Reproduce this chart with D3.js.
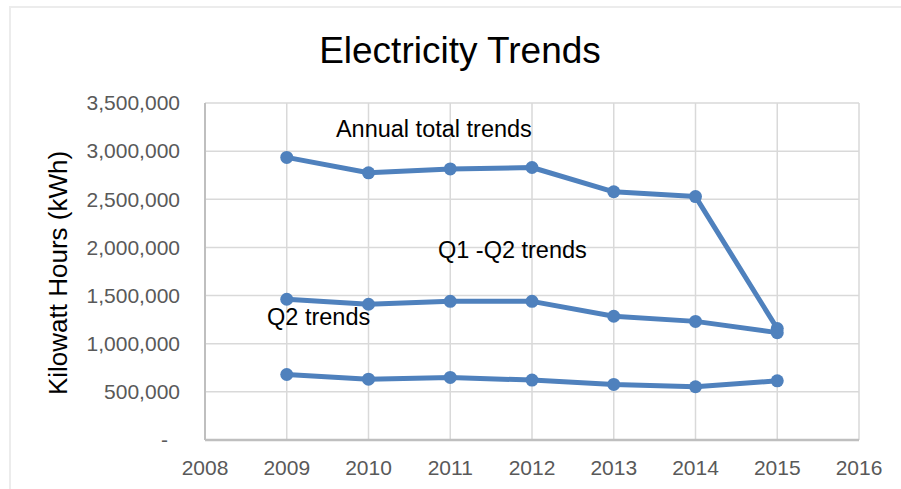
<!DOCTYPE html>
<meta charset="utf-8">
<script src="https://d3js.org/d3.v7.min.js"></script>
<style>
  body { margin: 0; background: #fff; }
  text { font-family: "Liberation Sans", Arial, sans-serif; }
</style>
<body>
<div id="chart"></div>
<script>

    // years on the x axis
    var years = [2009, 2010, 2011, 2012, 2013, 2014, 2015];

    // kWh values
    var annualTotal = [2935000, 2775000, 2815000, 2830000, 2578000, 2528000, 1158000];
    var q1q2 = [1462000, 1410000, 1440000, 1440000, 1285000, 1232000, 1115000];
    var q2 = [680000, 632000, 650000, 622000, 577000, 553000, 615000];

    var xTicks = [2008, 2009, 2010, 2011, 2012, 2013, 2014, 2015, 2016];
    var yTicks = [0, 500000, 1000000, 1500000, 2000000, 2500000, 3000000, 3500000];

    // text labels placed in data units
    var labelText = ["Annual total trends", "Q1 -Q2 trends", "Q2 trends"];
    var labelYear = [2010.8, 2011.76, 2009.39];
    var labelValue = [3147000, 1890000, 1194000];

    var width = 901, height = 489;
    var margin = {top: 103, right: 42, bottom: 49, left: 205};

    var svg = d3.select("#chart")
      .append("svg")
        .attr("width", width)
        .attr("height", height);

    // outer chart frame
    svg.append("rect")
        .attr("x", 10).attr("y", 7)
        .attr("width", width + 20).attr("height", height + 20)
        .attr("fill", "#fff")
        .attr("stroke", "#ececec")
        .attr("stroke-width", 2);

    var x = d3.scaleLinear()
      .domain([2008, 2016])
      .range([margin.left, width - margin.right]);

    var y = d3.scaleLinear()
      .domain([0, 3500000])
      .range([height - margin.bottom, margin.top]);

    // horizontal grid
    svg.append("g")
      .selectAll("line")
      .data(yTicks.slice(1))
      .enter()
      .append("line")
        .attr("x1", x(2008)).attr("x2", x(2016))
        .attr("y1", function(d) { return y(d); })
        .attr("y2", function(d) { return y(d); })
        .attr("stroke", "#d9d9d9")
        .attr("stroke-width", 1.5);

    // vertical grid
    svg.append("g")
      .selectAll("line")
      .data(xTicks.slice(1))
      .enter()
      .append("line")
        .attr("x1", function(d) { return x(d); })
        .attr("x2", function(d) { return x(d); })
        .attr("y1", y(0)).attr("y2", y(3500000))
        .attr("stroke", "#d9d9d9")
        .attr("stroke-width", 1.5);

    // axes lines
    svg.append("line")
        .attr("x1", x(2008)).attr("x2", x(2008))
        .attr("y1", y(0)).attr("y2", y(3500000))
        .attr("stroke", "#bfbfbf").attr("stroke-width", 2);
    svg.append("line")
        .attr("x1", x(2008)).attr("x2", x(2016))
        .attr("y1", y(0)).attr("y2", y(0))
        .attr("stroke", "#bfbfbf").attr("stroke-width", 2.5);

    // y tick labels
    var yFmt = d3.format(",");
    svg.append("g")
      .selectAll("text")
      .data(yTicks)
      .enter()
      .append("text")
        .attr("x", function(d) { return d === 0 ? 168 : 180; })
        .attr("y", function(d) { return y(d); })
        .attr("dy", "0.35em")
        .attr("text-anchor", "end")
        .attr("font-size", "21px")
        .attr("fill", "#595959")
        .text(function(d) { return d === 0 ? "-" : yFmt(d); });

    // x tick labels
    svg.append("g")
      .selectAll("text")
      .data(xTicks)
      .enter()
      .append("text")
        .attr("x", function(d) { return x(d); })
        .attr("y", 475)
        .attr("text-anchor", "middle")
        .attr("font-size", "21px")
        .attr("fill", "#595959")
        .text(function(d) { return d; });

    // title
    svg.append("text")
        .attr("x", 460)
        .attr("y", 63)
        .attr("text-anchor", "middle")
        .attr("font-size", "37px")
        .attr("fill", "#000")
        .text("Electricity Trends");

    // y axis title
    svg.append("text")
        .attr("transform", "translate(67,273) rotate(-90)")
        .attr("text-anchor", "middle")
        .attr("font-size", "26px")
        .attr("fill", "#000")
        .text("Kilowatt Hours (kWh)");

    var line = d3.line()
      .x(function(d, i) { return x(years[i]); })
      .y(function(d) { return y(d); });

    var series = [annualTotal, q1q2, q2];
    var blue = "#4f81bd";

    series.forEach(function(s) {
      svg.append("path")
          .datum(s)
          .attr("d", line)
          .attr("fill", "none")
          .attr("stroke", blue)
          .attr("stroke-width", 5)
          .attr("stroke-linejoin", "round");

      svg.append("g")
        .selectAll("circle")
        .data(s)
        .enter()
        .append("circle")
          .attr("cx", function(d, i) { return x(years[i]); })
          .attr("cy", function(d) { return y(d); })
          .attr("r", 6.5)
          .attr("fill", blue);
    });

    // series labels
    svg.append("g")
      .selectAll("text")
      .data(labelText)
      .enter()
      .append("text")
        .attr("x", function(d, i) { return x(labelYear[i]); })
        .attr("y", function(d, i) { return y(labelValue[i]); })
        .attr("text-anchor", "middle")
        .attr("font-size", "23.5px")
        .attr("fill", "#000")
        .text(function(d) { return d; });

</script>
</body>
